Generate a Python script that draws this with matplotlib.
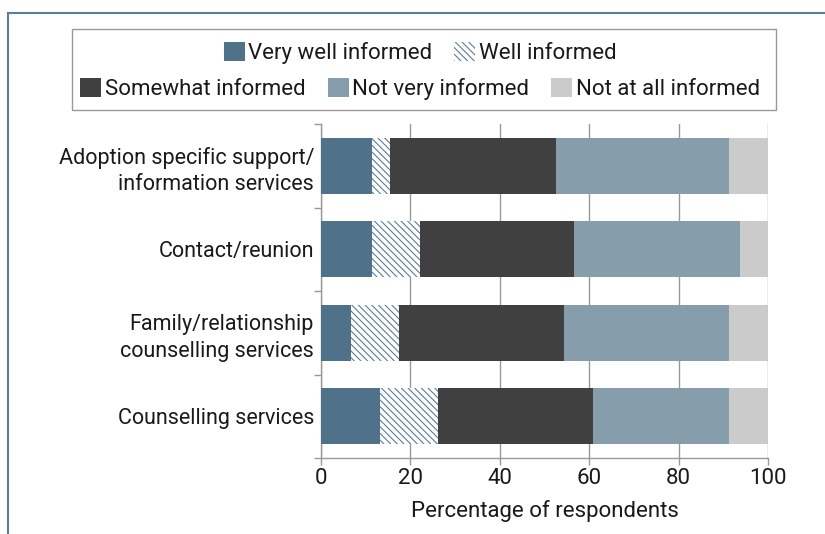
import matplotlib
matplotlib.use("Agg")
import matplotlib.pyplot as plt
from matplotlib.patches import Patch, Rectangle
from matplotlib.lines import Line2D
import numpy as np

plt.rcParams['font.family'] = ['Roboto', 'DejaVu Sans']
plt.rcParams['hatch.linewidth'] = 0.8

categories = ["Adoption specific support/\ninformation services",
              "Contact/reunion",
              "Family/relationship\ncounselling services",
              "Counselling services"]
series_names = ["Very well informed", "Well informed", "Somewhat informed",
                "Not very informed", "Not at all informed"]
very_well = [11.4, 11.4, 6.6, 13.2]
well = [4.1, 10.7, 10.8, 13.0]
somewhat = [37.1, 34.6, 37.0, 34.6]
not_very = [38.7, 37.0, 36.9, 30.5]
not_at_all = [8.7, 6.3, 8.7, 8.7]
xticks = [0, 20, 40, 60, 80, 100]

colors = ["#4F7189", "white", "#404040", "#869DAC", "#CBCBCB"]
hatch_color = "#5B7E97"
text_color = "#1a1a1a"
FS = 15.5
LFS = 16

fig = plt.figure(figsize=(8.25, 5.34), dpi=100)
ax = fig.add_axes([321/825, 1-458/534, (768-321)/825, (458-124)/534])

y = np.arange(len(categories))
left = np.zeros(len(categories))
data = [very_well, well, somewhat, not_very, not_at_all]
HATCH = "\\\\\\\\\\"
for i, vals in enumerate(data):
    if i == 1:
        ax.barh(y, vals, left=left, height=0.67, color="white",
                edgecolor=hatch_color, linewidth=0, hatch=HATCH, zorder=3)
    else:
        ax.barh(y, vals, left=left, height=0.67, color=colors[i],
                linewidth=0, zorder=3)
    left += np.array(vals)

ax.set_xlim(0, 100)
ax.set_ylim(len(categories)-0.5, -0.5)
ax.set_xticks(xticks)
ax.set_xticklabels([str(t) for t in xticks], fontsize=LFS, color=text_color)
ax.set_yticks(np.arange(-0.5, len(categories)+0.5, 1))
ax.set_yticklabels([])
ax.set_yticks(y, minor=True)
ax.set_yticklabels(categories, minor=True, fontsize=FS, color=text_color,
                   linespacing=1.35)
ax.tick_params(axis='y', which='minor', length=0, pad=5)
ax.tick_params(axis='y', which='major', length=5, color="#999999", width=1)
ax.tick_params(axis='x', length=5, color="#999999", width=1, pad=2)
ax.grid(axis='x', color="#999999", linewidth=1, zorder=0)
ax.set_axisbelow(True)
for s in ['top', 'right']:
    ax.spines[s].set_visible(False)
for s in ['left', 'bottom']:
    ax.spines[s].set_color("#999999")
    ax.spines[s].set_linewidth(1)
ax.set_xlabel("Percentage of respondents", fontsize=LFS, color=text_color, labelpad=8)

# legend
handles = []
for i, name in enumerate(series_names):
    if i == 1:
        handles.append(Patch(facecolor="white", edgecolor=hatch_color, linewidth=0,
                             hatch=HATCH, label=name))
    else:
        handles.append(Patch(facecolor=colors[i], linewidth=0, label=name))

fig.patches.append(Rectangle((72/825, 1-110/534), (776-72)/825, (110-29)/534,
                             transform=fig.transFigure, facecolor="white",
                             edgecolor="#999999", linewidth=1))
kw = dict(frameon=False, fontsize=LFS, handlelength=0.95, handleheight=0.95,
          handletextpad=0.15, columnspacing=1.0, borderaxespad=0, borderpad=0)
leg1 = fig.legend(handles=handles[:2], ncol=2, loc='center',
                  bbox_to_anchor=(420/825, 1-53/534), **kw)
leg2 = fig.legend(handles=handles[2:], ncol=3, loc='center',
                  bbox_to_anchor=(420/825, 1-89/534), **kw)
for leg in (leg1, leg2):
    for t in leg.get_texts():
        t.set_color(text_color)

# outer border
fig.add_artist(Line2D([8/825, 1], [1-13/534, 1-13/534], transform=fig.transFigure,
                      color=hatch_color, linewidth=1.5))
fig.add_artist(Line2D([8/825, 8/825], [0, 1-13/534], transform=fig.transFigure,
                      color=hatch_color, linewidth=1.5))

fig.savefig("out.png", dpi=100)
